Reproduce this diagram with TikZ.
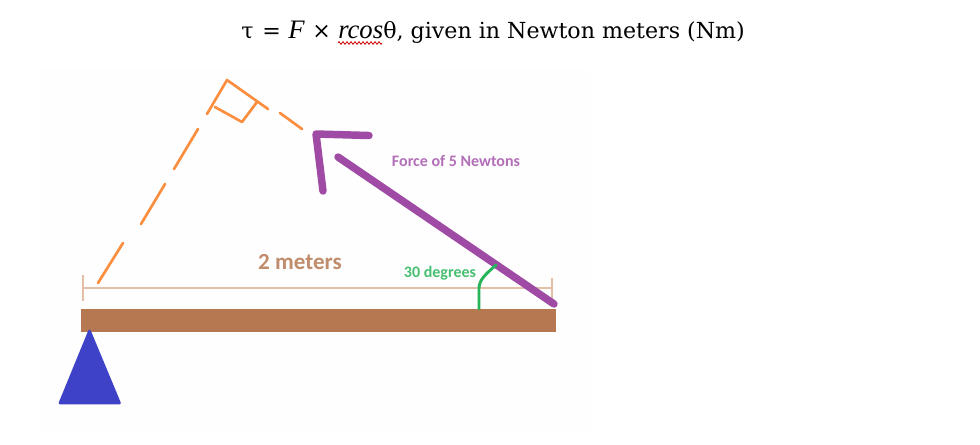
\documentclass[tikz,border=0pt]{standalone}
\usepackage{fontspec}
\setmainfont{DejaVu Serif}
\newfontfamily\mathlike{Liberation Serif}
\newfontfamily\labelfont{Carlito}
\usetikzlibrary{positioning,decorations.pathmorphing}
\definecolor{dashorange}{HTML}{FB8E3F}
\definecolor{forcepurple}{HTML}{9F4BA6}
\definecolor{beambrown}{HTML}{B57851}
\definecolor{dimbrown}{HTML}{E3BFA8}
\definecolor{pivotblue}{HTML}{3E42C7}
\definecolor{anglegreen}{HTML}{25B458}
\begin{document}
\begin{tikzpicture}[x=0.75pt,y=-0.75pt,
   titletext/.style={anchor=base west,inner sep=0pt,font=\fontsize{16.6}{20}\selectfont},
   mathtext/.style={titletext,font=\mathlike\itshape\fontsize{20}{24}\selectfont},
   tag/.style={inner sep=0pt,font=\labelfont\bfseries\fontsize{#1}{#1}\selectfont},
   armline/.style={dashorange,line width=2pt,line cap=round,line join=round},
   force/.style={forcepurple,line width=5.6pt,line cap=round,line join=round},
   dimline/.style={dimbrown,line width=0.8pt}]
 \useasboundingbox (0,0) rectangle (980,444);
 \fill[black!0.4] (40,68) rectangle (590,432);
 \node[titletext] (tau) at (241,38) {τ};
 \node[titletext] (eq) at (262,38) {=};
 \node[mathtext] (F) at (288,38) {F};
 \node[titletext] (times) at (312,38) {×};
 \node[mathtext] (rcos) at (338,38) {rcos};
 \node[titletext] (rest) at (383,38) {θ, given in Newton meters (Nm)};
 \draw[red!80!black,line width=0.6pt,decorate,decoration={zigzag,amplitude=1pt,segment length=3pt}]
   (338,43) -- (382,43);
 \coordinate (foot) at (98,283);
 \coordinate (corner) at (227,80);
 \coordinate (tipend) at (268,109);
 \foreach \A/\B in {{98,283}/{123,243},{141,224}/{165,184},{174,169}/{198,129},{280,113}/{302,129}}
  {\draw[armline] (\A) -- (\B);}
 \draw[armline] (207,114) -- (corner) -- (tipend);
 \draw[armline] (215,107) -- (242,122) -- (257,102);
 \draw[dimline] (83,288) -- (552,288);
 \draw[dimline] (83,275) -- (83,301);
 \draw[dimline] (552,278) -- (552,301);
 \node[fill=beambrown,minimum width=356.25pt,minimum height=17.25pt,inner sep=0pt] (beam) at (318.75,320.5) {};
 \fill[pivotblue,draw=pivotblue,line width=2pt,line join=round] (89.5,331) -- (60,403) -- (119.5,403) -- cycle;
 \coordinate (barend) at (554,304);
 \draw[force] (barend) -- (338,157);
 \draw[force] (323,191) -- (316,134) -- (369,135.5);
 \draw[anglegreen,line width=2.2pt,line cap=round] (479,309) -- (479,288) .. controls (479.5,279) and (486,274) .. (496,265);
 \node[tag=17.3,text=beambrown!85!white] (meters) at (300,262) {2 meters};
 \node[tag=12,text=anglegreen!85!white] (degrees) at (440,273) {30 degrees};
 \node[tag=12,text=forcepurple!80!white] (newtons) at (456,161) {Force of 5 Newtons};
\end{tikzpicture}
\end{document}
